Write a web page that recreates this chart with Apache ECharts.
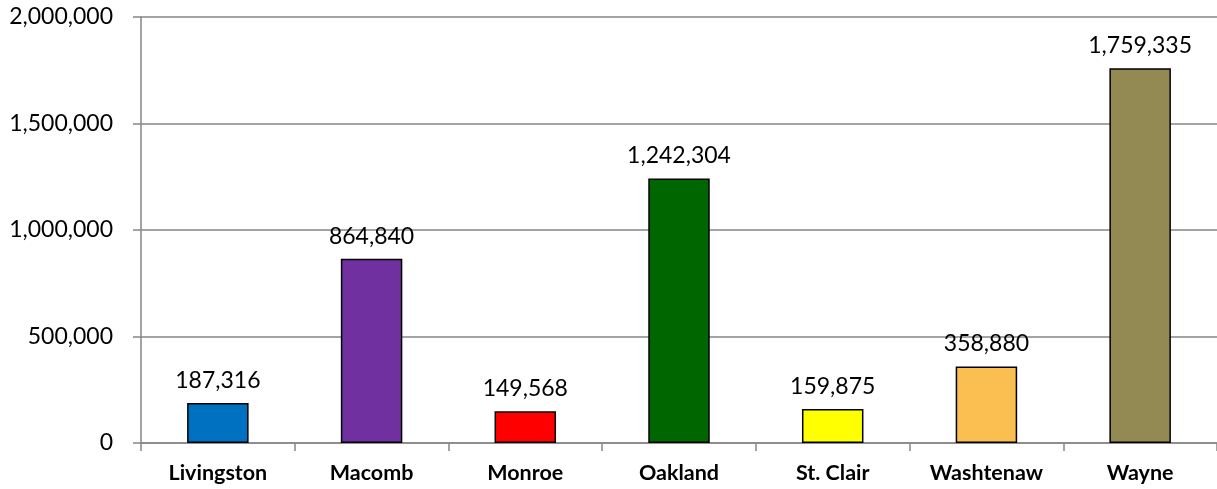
<!DOCTYPE html>
<html><head><meta charset="utf-8">
<script src="https://cdn.jsdelivr.net/npm/echarts@6/dist/echarts.min.js"></script>
<style>html,body{margin:0;padding:0;background:#fff}#c{width:1217px;height:489px}</style>
</head><body><div id="c"></div>
<script>
var categories = ["Livingston","Macomb","Monroe","Oakland","St. Clair","Washtenaw","Wayne"];
var values = [187316, 864840, 149568, 1242304, 159875, 358880, 1759335];
var colors = ["#0070C0","#7030A0","#FF0000","#006600","#FFFF00","#FBBF51","#938953"];
var yTicks = [0, 500000, 1000000, 1500000, 2000000];

var fmt = function(v){ return Number(v).toLocaleString('en-US'); };
var chart = echarts.init(document.getElementById('c'));
chart.setOption({
  animation: false,
  grid: {left: 141, right: -2, top: 17, bottom: 46},
  xAxis: {
    type: 'category', data: categories,
    axisLine: {lineStyle: {color: '#868686', width: 1.5}},
    axisTick: {show: true, alignWithLabel: false, length: 8, lineStyle: {color: '#868686', width: 1.5}},
    axisLabel: {color: '#000', fontFamily: 'Lato', fontWeight: 'bold', fontSize: 21.5, margin: 19}
  },
  yAxis: {
    type: 'value', min: yTicks[0], max: yTicks[yTicks.length-1], interval: 500000,
    axisLine: {show: true, lineStyle: {color: '#868686', width: 1.5}},
    axisTick: {show: true, length: 8, lineStyle: {color: '#868686', width: 1.5}},
    splitLine: {lineStyle: {color: '#868686', width: 1.5}},
    axisLabel: {color: '#000', fontFamily: 'Lato', fontSize: 23, margin: 28, formatter: fmt}
  },
  series: [{
    type: 'bar', barWidth: '40%',
    data: values.map(function(v, i){ return {value: v, itemStyle: {color: colors[i]}}; }),
    itemStyle: {borderColor: '#000', borderWidth: 1.5},
    label: {show: true, position: 'top', distance: 11, color: '#000', fontFamily: 'Lato', fontSize: 23, formatter: function(p){ return fmt(p.value); }}
  }]
});
</script></body></html>
